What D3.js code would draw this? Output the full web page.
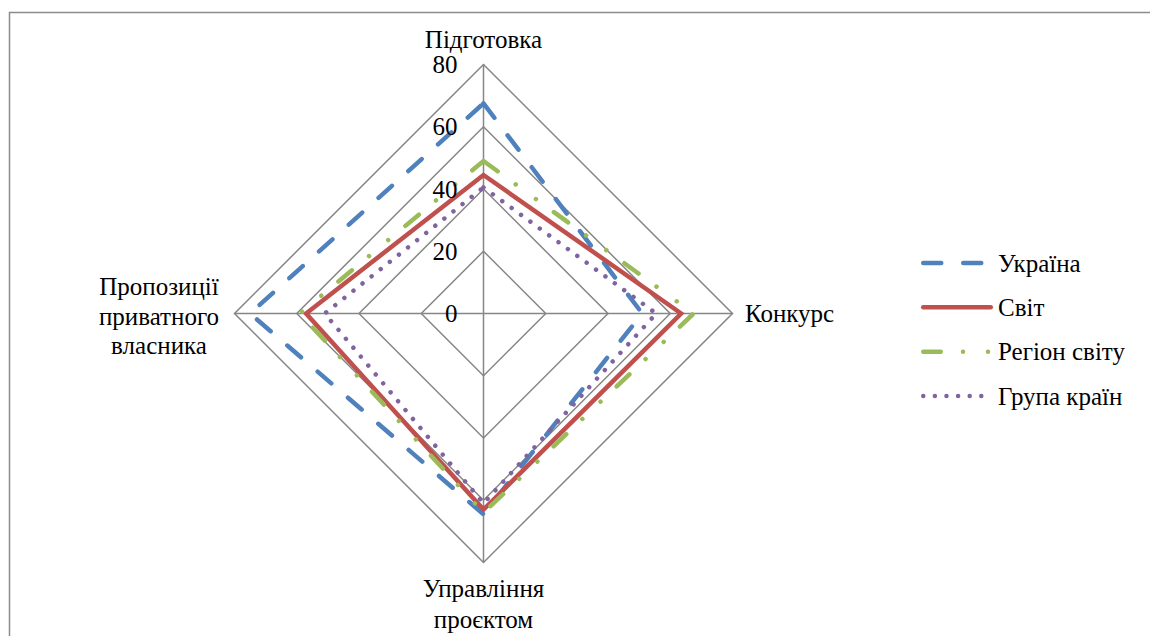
<!DOCTYPE html>
<html>
<head>
<meta charset="utf-8">
<script src="https://cdn.jsdelivr.net/npm/d3@7"></script>
</head>
<body style="margin:0;background:#fff">
<script>
// chart data
const axes = ['Підготовка', 'Конкурс', 'Управління проєктом', 'Пропозиції приватного власника']
const seriesNames = ['Україна', 'Світ', 'Регіон світу', 'Група країн']
const ukraine = [67.5, 51, 64.5, 75]
const world = [44.5, 63.5, 63, 57]
const region = [49, 67.5, 64, 59]
const group = [40.5, 55.5, 61, 51]
const ticks = [0, 20, 40, 60, 80]

const m = { width: 1150, height: 636 }
const cx = 483.5, cy = 313.5, R = 249

const styles = [
    { color: '#4F81BD', dash: '18,22' },
    { color: '#C0504D', dash: null },
    { color: '#9BBB59', dash: '17.5,22.25,0.01,25,0.01,22.25' },
    { color: '#8064A2', dash: '0.01,11.6' }
]
const series = [ukraine, world, region, group].map((v, i) => ({ name: seriesNames[i], values: v, style: styles[i] }))

const svg = d3.select('body').append('svg')
    .attr('width', m.width)
    .attr('height', m.height)
    .attr('font-family', '"Liberation Serif", "Times New Roman", Times, "DejaVu Serif", serif')
    .attr('font-size', 25)

// outer frame
svg.append('rect')
    .attr('x', 9.5).attr('y', 12.5)
    .attr('width', 1300).attr('height', 800)
    .attr('fill', 'none')
    .attr('stroke', '#8c8c8c')
    .attr('stroke-width', 1.5)

const r = d3.scaleLinear().domain([0, 80]).range([0, R])
const angle = d3.scalePoint().domain(d3.range(axes.length)).range([0, 2 * Math.PI * (axes.length - 1) / axes.length])

const g = svg.append('g').attr('transform', `translate(${cx},${cy})`)

// grid
const radial = d3.lineRadial()
    .angle((d, i) => angle(i))
    .radius(d => r(d))
    .curve(d3.curveLinearClosed)

g.selectAll('.grid')
    .data(ticks.filter(t => t > 0))
    .enter()
    .append('path')
    .attr('d', t => radial(axes.map(() => t)))
    .attr('fill', 'none')
    .attr('stroke', '#868686')
    .attr('stroke-width', 1.5)

g.selectAll('.spoke')
    .data(axes)
    .enter()
    .append('line')
    .attr('x1', 0).attr('y1', 0)
    .attr('x2', (d, i) => r(80) * Math.sin(angle(i)))
    .attr('y2', (d, i) => -r(80) * Math.cos(angle(i)))
    .attr('stroke', '#868686')
    .attr('stroke-width', 1.5)

// series
g.selectAll('.series')
    .data(series)
    .enter()
    .append('path')
    .attr('d', d => radial(d.values))
    .attr('fill', 'none')
    .attr('stroke', d => d.style.color)
    .attr('stroke-width', 4.5)
    .attr('stroke-linecap', 'round')
    .attr('stroke-linejoin', 'miter')
    .attr('stroke-dasharray', d => d.style.dash)

// tick labels
g.selectAll('.tick')
    .data(ticks)
    .enter()
    .append('text')
    .attr('x', -26)
    .attr('y', d => -r(d) + 8.5)
    .attr('text-anchor', 'end')
    .text(d => d)

// axis labels
svg.append('text')
    .attr('x', cx).attr('y', 48)
    .attr('text-anchor', 'middle')
    .text(axes[0])

svg.append('text')
    .attr('x', 745).attr('y', 322)
    .text(axes[1])

const bottom = svg.append('text')
    .attr('text-anchor', 'middle')
bottom.append('tspan').attr('x', cx).attr('y', 597).text('Управління')
bottom.append('tspan').attr('x', cx).attr('y', 628).text('проєктом')

const left = svg.append('text')
    .attr('text-anchor', 'middle')
;['Пропозиції', 'приватного', 'власника'].forEach((w, i) => {
    left.append('tspan').attr('x', 159).attr('y', 295 + i * 29.5).text(w)
})

// legend
const legend = svg.append('g')
const rowY = d3.scalePoint().domain(seriesNames).range([263, 396])

legend.selectAll('.lg-line')
    .data(series)
    .enter()
    .append('line')
    .attr('x1', 923.25).attr('x2', 990.75)
    .attr('y1', d => rowY(d.name)).attr('y2', d => rowY(d.name))
    .attr('stroke', d => d.style.color)
    .attr('stroke-width', 4.5)
    .attr('stroke-linecap', 'round')
    .attr('stroke-dasharray', d => d.style.dash)

legend.selectAll('.lg-text')
    .data(series)
    .enter()
    .append('text')
    .attr('x', 998)
    .attr('y', d => rowY(d.name) + 8.5)
    .text(d => d.name)
</script>
</body>
</html>
